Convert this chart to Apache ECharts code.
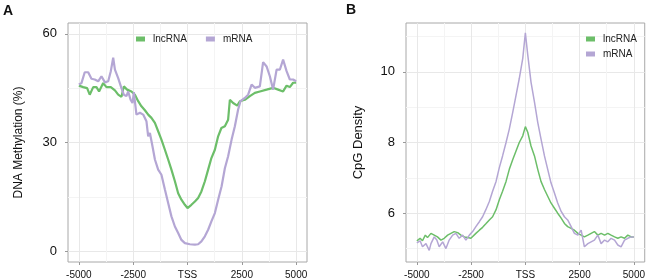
<!DOCTYPE html>
<html>
<head>
<meta charset="utf-8">
<script src="https://cdn.jsdelivr.net/npm/echarts@6.0.0/dist/echarts.min.js"></script>
<style>
  html, body { margin: 0; padding: 0; background: #fff; }
  #chart { width: 648px; height: 280px; }
</style>
</head>
<body>
<div id="chart"></div>
<script>
// x tick labels shared by both panels (distance to TSS, bp)
const xTicks = [-5000, -2500, 0, 2500, 5000];
const xMinor = [-3750, -1250, 1250, 3750];

// Panel A: DNA methylation (%)
const methTicks = [0, 30, 60];
const methMinor = [15, 45];
const methLncPos = [-5000,-4800,-4620,-4500,-4340,-4190,-4070,-3880,-3730,-3530,-3340,-3190,-3040,-2930,-2780,-2580,-2420,-2270,-2120,-1960,-1810,-1660,-1500,-1350,-1200,-1040,-890,-740,-580,-430,-280,-120,0,180,340,490,640,800,950,1100,1260,1410,1560,1720,1870,1950,2100,2290,2410,2640,2870,3100,3330,3640,3940,4170,4400,4560,4710,4860,5000];
const methLnc = [45.7,45.3,45,43.2,45.3,45.3,44.1,46.4,45.3,45.3,44.4,43.2,42.6,45.5,44.6,44.1,43.2,41.4,40,38.9,37.7,36.8,35.4,33.1,30.8,28,25.3,22.5,19.3,16,14.2,12.8,11.9,12.8,13.7,14.7,16.5,19.3,22.5,25.7,28,31.7,34,34.5,36.3,41.8,40.9,40.2,41.4,41.8,42.8,43.7,44.1,44.6,45.1,44.6,44.1,45.7,45.3,46.5,46.5];
const methMrnaPos = [-5000,-4880,-4730,-4570,-4420,-4270,-4110,-3960,-3800,-3650,-3530,-3420,-3340,-3190,-3040,-2930,-2810,-2730,-2620,-2530,-2470,-2350,-2190,-2040,-1890,-1810,-1730,-1610,-1500,-1350,-1200,-1040,-890,-740,-580,-430,-280,-120,110,340,490,640,800,950,1100,1260,1410,1570,1720,1870,2030,2180,2330,2440,2640,2790,2950,3100,3330,3480,3640,3790,3940,4100,4250,4400,4560,4710,4860,5000];
const methMrna = [46,46.4,49.4,49.4,47.6,47.4,46.9,48.3,46.6,46.9,49.7,53.4,50.1,47.8,45,43.2,42.8,44.1,41.8,40.9,43.9,37.7,38.2,37.7,35.9,31.7,32.6,28.9,25.3,22.5,21.1,17,13.3,9.6,6.8,5,3.1,2.2,1.9,1.8,1.9,2.7,4.1,5.9,8.2,10.5,14.2,17.9,22.9,26.2,30.8,34.5,39.1,41.4,42.3,43.2,46,45.1,45.5,52.2,51,48.3,44.6,50.1,50.1,52.9,49.7,47.4,47.4,46.9];

// Panel B: CpG density
const cpgTicks = [6, 8, 10];
const cpgMinor = [5, 7, 9, 11];
const cpgLncPos = [-5000,-4850,-4740,-4610,-4510,-4350,-4200,-4050,-3890,-3740,-3580,-3430,-3280,-3120,-2970,-2810,-2660,-2510,-2430,-2280,-2120,-1970,-1820,-1660,-1510,-1350,-1200,-1050,-890,-740,-580,-430,-280,-120,0,110,260,420,570,720,880,1030,1180,1340,1490,1650,1800,1950,2110,2260,2420,2570,2720,2880,3030,3180,3340,3490,3650,3800,3950,4110,4260,4410,4570,4720,4880,5000];
const cpgLnc = [5.22,5.29,5.22,5.38,5.31,5.43,5.38,5.33,5.24,5.29,5.38,5.43,5.48,5.45,5.38,5.33,5.31,5.29,5.31,5.43,5.52,5.6,5.7,5.81,5.9,6.1,6.38,6.62,6.9,7.24,7.52,7.76,8.0,8.19,8.45,8.29,7.9,7.62,7.24,6.9,6.67,6.48,6.29,6.14,6.0,5.86,5.71,5.62,5.57,5.52,5.43,5.38,5.33,5.38,5.43,5.48,5.38,5.43,5.38,5.43,5.38,5.33,5.29,5.33,5.29,5.38,5.33,5.33];
const cpgMrnaPos = [-5000,-4850,-4740,-4580,-4430,-4350,-4200,-4080,-3970,-3810,-3660,-3510,-3350,-3200,-3050,-2890,-2740,-2580,-2430,-2280,-2120,-1970,-1820,-1660,-1510,-1350,-1200,-1050,-890,-740,-580,-430,-280,-120,0,110,260,420,570,720,880,1030,1180,1340,1490,1650,1800,1950,2110,2260,2420,2570,2720,2880,3030,3180,3340,3490,3650,3800,3950,4110,4260,4410,4570,4720,4880,5000];
const cpgMrna = [5.16,5.22,5.05,5.14,4.95,5.14,5.33,5.24,5.05,5.19,5.0,5.24,5.38,5.43,5.29,5.38,5.24,5.38,5.48,5.62,5.76,5.9,6.1,6.33,6.62,6.9,7.29,7.62,8.0,8.38,8.86,9.33,9.81,10.38,11.1,10.48,9.71,9.14,8.57,8.1,7.62,7.24,6.86,6.57,6.29,6.05,5.9,5.81,5.62,5.43,5.38,5.52,5.05,5.14,5.19,5.24,5.38,5.14,5.24,5.19,5.29,5.24,5.1,5.05,5.24,5.29,5.33,5.33];

const GREEN = '#6cbe69';
const PURPLE = '#b4a6d4';
const FONT = 'Liberation Sans, Arial, sans-serif';

function pairs(xs, ys) {
  return xs.map((x, i) => [x, ys[i]]);
}

// main axis: ticks + labels + major grid lines
function mainX(grid) {
  return {
    type: 'value', gridIndex: grid, min: -5500, max: 5500, position: 'bottom',
    axisLine: { show: false, onZero: false },
    axisTick: { show: true, customValues: xTicks, length: 3, lineStyle: { color: '#999' } },
    axisLabel: {
      customValues: xTicks, fontSize: 10, margin: 8, color: '#111', fontFamily: FONT,
      formatter: v => (v === 0 ? 'TSS' : String(v))
    },
    splitLine: { show: true, lineStyle: { color: '#e8e8e8', width: 1 } }
  };
}
// hidden axis only for minor grid lines
function minorX(grid) {
  return {
    type: 'value', gridIndex: grid, min: -5500, max: 5500, position: 'bottom',
    axisLine: { show: false, onZero: false },
    axisTick: { show: false, customValues: xMinor },
    axisLabel: { show: false },
    splitLine: { show: true, lineStyle: { color: '#f4f4f4', width: 1 } }
  };
}
function mainY(grid, min, max, ticks, name, size, gap) {
  return {
    type: 'value', gridIndex: grid, min: min, max: max, position: 'left',
    name: name, nameLocation: 'middle', nameGap: gap,
    nameTextStyle: { fontSize: size, color: '#111', fontFamily: FONT },
    axisLine: { show: false, onZero: false },
    axisTick: { show: true, customValues: ticks, length: 3, lineStyle: { color: '#999' } },
    axisLabel: { customValues: ticks, fontSize: 13, margin: 11, color: '#111', fontFamily: FONT },
    splitLine: { show: true, lineStyle: { color: '#e8e8e8', width: 1 } }
  };
}
function minorY(grid, min, max, ticks) {
  return {
    type: 'value', gridIndex: grid, min: min, max: max, position: 'left',
    axisLine: { show: false, onZero: false },
    axisTick: { show: false, customValues: ticks },
    axisLabel: { show: false },
    splitLine: { show: true, lineStyle: { color: '#f4f4f4', width: 1 } }
  };
}

const chart = echarts.init(document.getElementById('chart'));

chart.setOption({
  animation: false,
  backgroundColor: '#fff',
  textStyle: { fontFamily: FONT },
  title: [
    { text: 'A', left: 3, top: 4, padding: 0, textStyle: { fontSize: 14, fontWeight: 'bold', color: '#111' } },
    { text: 'B', left: 346, top: 3, padding: 0, textStyle: { fontSize: 14, fontWeight: 'bold', color: '#111' } }
  ],
  grid: [
    { left: 68, right: 341, top: 23, bottom: 18, show: true, borderColor: '#a8a8a8', borderWidth: 1 },
    { left: 406, right: 2, top: 23, bottom: 18, show: true, borderColor: '#a8a8a8', borderWidth: 1 }
  ],
  legend: [
    {
      left: 136, top: 34, padding: 0, orient: 'horizontal', icon: 'rect',
      itemWidth: 9, itemHeight: 5, itemGap: 19,
      textStyle: { fontSize: 10, color: '#222', padding: [0, 0, 0, 3] },
      data: ['lncRNA', 'mRNA']
    },
    {
      left: 586, top: 34, padding: 0, orient: 'vertical', icon: 'rect',
      itemWidth: 9, itemHeight: 5, itemGap: 5,
      textStyle: { fontSize: 10, color: '#222', padding: [0, 0, 0, 3] },
      data: ['lncRNA', 'mRNA']
    }
  ],
  xAxis: [mainX(0), minorX(0), mainX(1), minorX(1)],
  yAxis: [
    mainY(0, -3, 63, methTicks, 'DNA Methylation (%)', 12, 43),
    minorY(0, -3, 63, methMinor),
    mainY(1, 4.62, 11.38, cpgTicks, 'CpG Density', 13, 41),
    minorY(1, 4.62, 11.38, cpgMinor)
  ],
  series: [
    { name: 'lncRNA', type: 'line', xAxisIndex: 0, yAxisIndex: 0, showSymbol: false,
      lineStyle: { width: 2.2, color: GREEN }, itemStyle: { color: GREEN },
      data: pairs(methLncPos, methLnc) },
    { name: 'mRNA', type: 'line', xAxisIndex: 0, yAxisIndex: 0, showSymbol: false,
      lineStyle: { width: 2.2, color: PURPLE }, itemStyle: { color: PURPLE },
      data: pairs(methMrnaPos, methMrna) },
    { name: 'lncRNA', type: 'line', xAxisIndex: 2, yAxisIndex: 2, showSymbol: false,
      lineStyle: { width: 1.5, color: GREEN }, itemStyle: { color: GREEN },
      data: pairs(cpgLncPos, cpgLnc) },
    { name: 'mRNA', type: 'line', xAxisIndex: 2, yAxisIndex: 2, showSymbol: false,
      lineStyle: { width: 1.5, color: PURPLE }, itemStyle: { color: PURPLE },
      data: pairs(cpgMrnaPos, cpgMrna) }
  ]
});
</script>
</body>
</html>
